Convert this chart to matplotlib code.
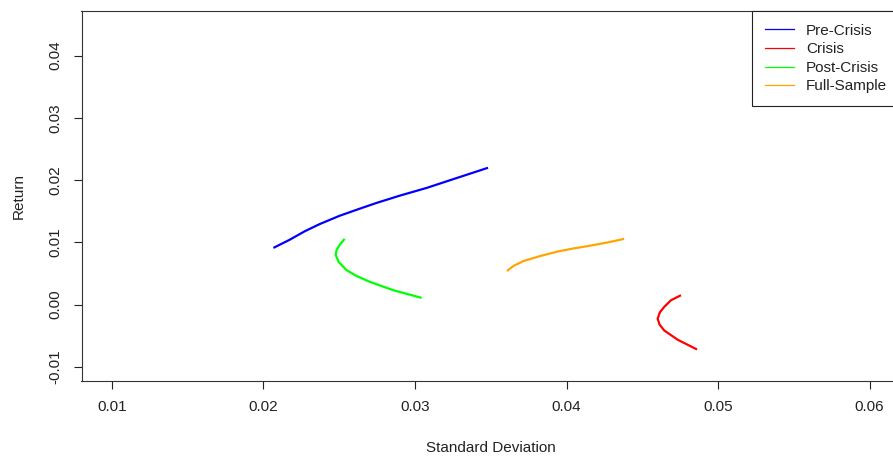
import matplotlib.pyplot as plt
from matplotlib.lines import Line2D

plt.rcParams['font.family'] = ['Liberation Sans', 'DejaVu Sans']

# efficient frontiers (standard deviation, return) for each sample period
pre_sd = [0.02066, 0.02172, 0.02272, 0.02371, 0.02503, 0.02636, 0.02746, 0.02901, 0.03078, 0.03265, 0.03482]
pre_ret = [0.00910, 0.01039, 0.01176, 0.01292, 0.01426, 0.01540, 0.01632, 0.01750, 0.01874, 0.02024, 0.02197]

crisis_sd = [0.04755, 0.04689, 0.04644, 0.04616, 0.04601, 0.04613, 0.04644, 0.04733, 0.04861]
crisis_ret = [0.00150, 0.00069, -0.00039, -0.00124, -0.00226, -0.00318, -0.00415, -0.00565, -0.00722]

post_sd = [0.02536, 0.02503, 0.02483, 0.02477, 0.02497, 0.02548, 0.02616, 0.02702, 0.02856, 0.03044]
post_ret = [0.01055, 0.00958, 0.00877, 0.00796, 0.00683, 0.00554, 0.00457, 0.00365, 0.00231, 0.00107]

full_sd = [0.03607, 0.03649, 0.03717, 0.03828, 0.03938, 0.04046, 0.04159, 0.04272, 0.04380]
full_ret = [0.00538, 0.00619, 0.00700, 0.00780, 0.00850, 0.00901, 0.00947, 0.00998, 0.01055]

labels = ["Pre-Crisis", "Crisis", "Post-Crisis", "Full-Sample"]
colors = ["blue", "red", "#00ff00", "orange"]

W, H = 893, 461
fig = plt.figure(figsize=(W / 100, H / 100), dpi=100)
left, right, top, bottom = 81.5, 900, 10.7, 380.5
ax = fig.add_axes([left / W, (H - bottom) / H, (right - left) / W, (bottom - top) / H])

series = [(pre_sd, pre_ret), (crisis_sd, crisis_ret), (post_sd, post_ret), (full_sd, full_ret)]
for (sd, ret), c in zip(series, colors):
    ax.plot(sd, ret, color=c, lw=1.6, solid_capstyle='butt')

ax.set_xlim(0.008, 0.062)
ax.set_ylim(-0.0122, 0.0472)
ax.set_xticks([0.01, 0.02, 0.03, 0.04, 0.05, 0.06])
ax.set_yticks([-0.01, 0.00, 0.01, 0.02, 0.03, 0.04])
ax.set_xticklabels(["0.01", "0.02", "0.03", "0.04", "0.05", "0.06"])
ax.set_yticklabels(["-0.01", "0.00", "0.01", "0.02", "0.03", "0.04"],
                   rotation=90, va='center')
ax.tick_params(direction='out', length=6, width=0.8, color='#222222',
               labelsize=11, labelcolor='#222222', pad=8)
for s in ax.spines.values():
    s.set_linewidth(0.8)
    s.set_color('#333333')

ax.set_xlabel("Standard Deviation", fontsize=11, color='#222222', va='center')
ax.xaxis.set_label_coords(0.5, (bottom - 447.5) / (bottom - top))
ax.set_ylabel("Return", fontsize=11, color='#222222', va='center')
ax.yaxis.set_label_coords((18.5 - left) / (right - left), 0.5)

handles = [Line2D([], [], color=c, lw=0.9) for c in colors]
leg = ax.legend(handles, labels, loc='upper right', bbox_to_anchor=(1, 1),
                borderaxespad=0, fancybox=False, edgecolor='#222222',
                fontsize=11, handlelength=1.9, handletextpad=0.8,
                labelspacing=0.3, borderpad=0.85, framealpha=1)
leg.get_frame().set_linewidth(0.8)
for t in leg.get_texts():
    t.set_color('#222222')

fig.savefig("out.png", dpi=100)
